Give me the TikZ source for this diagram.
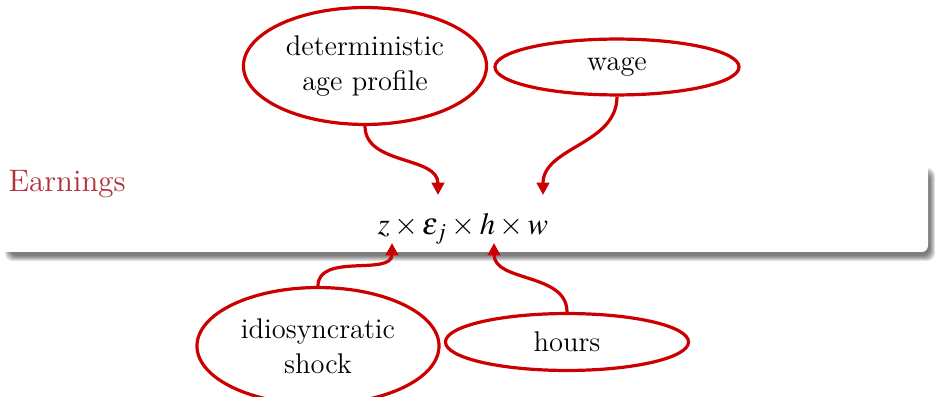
\documentclass[tikz,border=0pt]{standalone}
\usepackage{mathptmx}
\usetikzlibrary{arrows.meta,shapes.geometric}
\definecolor{accent}{HTML}{CC0000}
\definecolor{titlered}{HTML}{B2303B}

\begin{document}
\begin{tikzpicture}[
  x=0.39pt, y=-0.39pt,
  >={Triangle[length=4.8pt,width=4.8pt]},
  factor/.style={ellipse, draw=accent, line width=1.25pt, inner sep=0pt, align=center, font=\fontsize{11.1}{13.6}\selectfont},
  link/.style={->, line width=1.25pt, color=accent},
]
\useasboundingbox (0,0) rectangle (935,397);

% block body with soft shadow
\foreach \i in {0,...,5} {
  \fill[black, opacity=0.11, rounded corners=3pt] (10-\i,173-\i) rectangle (930+\i,256+\i);
}
\fill[white, rounded corners=2.5pt] (-30,160) rectangle (928,252);

\node[anchor=base west, inner sep=0pt, text=titlered, font=\fontsize{12.1}{15}\selectfont] (title) at (8,192) {Earnings};
\node[anchor=base, font=\fontsize{12}{14}\selectfont] (earn) at (463,235)
  {$z \times \varepsilon_j \times h \times w$};

\node[factor, minimum width=94.8pt, minimum height=45.6pt] (age) at (365,66) {deterministic\\age profile};
\node[factor, minimum width=95.2pt, minimum height=21.8pt] (wage) at (617,67) {wage};
\node[factor, minimum width=94.4pt, minimum height=45.6pt] (shock) at (318,346) {idiosyncratic\\shock};
\node[factor, minimum width=94.8pt, minimum height=22.2pt] (hours) at (567,342) {hours};

\coordinate (epsin) at (438,195);
\coordinate (win) at (543,195);
\coordinate (zin) at (392,243);
\coordinate (hin) at (494,243);

\draw[link] (age.south) to[out=-90,in=90] (epsin);
\draw[link] (wage.south) to[out=-90,in=90] (win);
\draw[link] (shock.north) to[out=90,in=-90] (zin);
\draw[link] (hours.north) to[out=90,in=-90] (hin);
\end{tikzpicture}
\end{document}
